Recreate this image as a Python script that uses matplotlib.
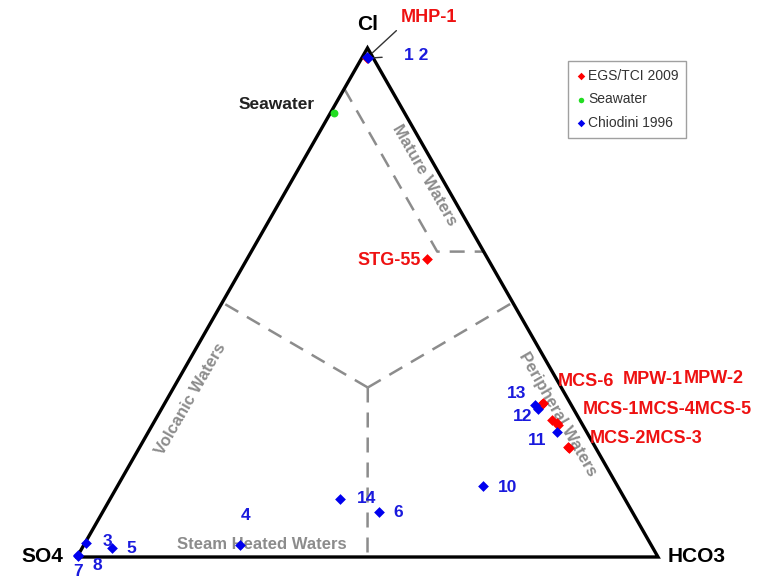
import numpy as np
import matplotlib.pyplot as plt

# Giggenbach Cl-SO4-HCO3 ternary plot of geothermal water samples

# EGS/TCI 2009 samples (percent of Cl + SO4 + HCO3)
egs_names = ['MHP-1', 'STG-55', 'MCS-6', 'MPW-1', 'MPW-2',
             'MCS-1', 'MCS-4', 'MCS-5', 'MCS-2', 'MCS-3']
egs_cl = [98.1, 58.5, 30.0, 30.3, 29.8, 27.0, 26.3, 26.0, 21.6, 21.5]
egs_so4 = [1.0, 10.5, 5.0, 4.6, 5.2, 4.8, 4.3, 4.2, 4.7, 4.6]
egs_hco3 = [0.9, 31.0, 65.0, 65.1, 65.0, 68.2, 69.4, 69.8, 73.7, 73.9]

# seawater
sw_cl = [87.2]
sw_so4 = [12.2]
sw_hco3 = [0.6]

# Chiodini 1996 samples
chi_names = ['1', '2', '3', '4', '5', '6', '7', '8', '10', '11', '12', '13', '14']
chi_cl = [98.0, 98.2, 2.8, 2.4, 1.8, 8.8, 0.2, 0.3, 13.9, 24.6, 29.1, 29.9, 11.4]
chi_so4 = [1.0, 0.9, 97.0, 70.8, 93.1, 43.6, 99.7, 99.6, 23.2, 5.1, 6.1, 6.2, 49.0]
chi_hco3 = [1.0, 0.9, 0.2, 26.8, 5.1, 47.6, 0.1, 0.1, 62.9, 70.3, 64.8, 63.9, 39.6]

# field boundaries (Cl, SO4, HCO3)
mature_line = [(92.0, 8.0, 0.0), (60.0, 8.0, 32.0), (60.0, 0.0, 40.0)]
center = (33.3, 33.3, 33.4)
edge_mids = [(50.0, 50.0, 0.0), (50.0, 0.0, 50.0), (0.0, 50.0, 50.0)]

H = np.sqrt(3) / 2


def tern(cl, so4, hco3):
    cl = np.asarray(cl, float)
    so4 = np.asarray(so4, float)
    hco3 = np.asarray(hco3, float)
    tot = cl + so4 + hco3
    return (hco3 + cl / 2) / tot, cl / tot * H


fig = plt.figure(figsize=(7.67, 5.79), dpi=100)
ax = fig.add_axes([0, 0, 1, 1])
ypx = 509 / H
ax.set_xlim(-77 / 581, 690 / 581)
ax.set_ylim(-22 / ypx, 557 / ypx)
ax.axis('off')

BOLD = dict(fontweight='bold', family='Liberation Sans')
grey = '#8c8c8c'

# triangle frame
fx, fy = tern([0, 100, 0, 0], [100, 0, 0, 100], [0, 0, 100, 0])
ax.plot(fx, fy, color='black', lw=2.4, solid_joinstyle='miter', zorder=3)

# dashed field boundaries
dash = dict(color=grey, lw=1.8, ls=(0, (6, 4)), zorder=1)
mx, my = tern(*zip(*mature_line))
ax.plot(mx, my, **dash)
for m in edge_mids:
    lx, ly = tern(*zip(center, m))
    ax.plot(lx, ly, **dash)

# region labels
reg = dict(ha='center', va='center', color=grey, fontsize=12, **BOLD)
ax.text(*tern(75, 2.7, 22.3), 'Mature Waters', rotation=-60, **reg)
ax.text(*tern(28.0, 3.2, 68.8), 'Peripheral Waters', rotation=-60, **reg)
ax.text(*tern(31, 65, 4), 'Volcanic Waters', rotation=60, **reg)
ax.text(*tern(2.4, 67, 30.6), 'Steam Heated Waters', **reg)

# vertex labels
ax.text(0.5, H + 24 / ypx, 'Cl', ha='center', va='center', fontsize=15, **BOLD)
ax.text(-35 / 581, 0, 'SO4', ha='center', va='center', fontsize=15, **BOLD)
ax.text(620 / 581, 0, 'HCO3', ha='center', va='center', fontsize=15, **BOLD)

# data points
ex, ey = tern(egs_cl, egs_so4, egs_hco3)
sx, sy = tern(sw_cl, sw_so4, sw_hco3)
cx, cy = tern(chi_cl, chi_so4, chi_hco3)
ax.scatter(ex, ey, marker='D', s=30, color='#ff0000', lw=0, zorder=4, label='EGS/TCI 2009')
ax.scatter(sx, sy, marker='o', s=32, color='#22dd22', lw=0, zorder=4, label='Seawater')
ax.scatter(cx, cy, marker='D', s=30, color='#0000ee', lw=0, zorder=5, label='Chiodini 1996')

red = dict(color='#ee1111', fontsize=13, textcoords='offset pixels', va='center', **BOLD)
blue = dict(color='#1a1add', fontsize=12.5, textcoords='offset pixels',
            ha='center', va='center', **BOLD)

ax.annotate('Seawater', (sx[0], sy[0]), xytext=(-57, 9), textcoords='offset pixels',
            ha='center', va='center', color='#222222', fontsize=12.5, **BOLD)

# EGS labels
pts = dict(zip(egs_names, zip(ex, ey)))
ax.annotate('MHP-1', pts['MHP-1'], xytext=(34, 40), ha='left',
            arrowprops=dict(arrowstyle='-', color='#333333', lw=1, relpos=(0, 0),
                            shrinkA=2, shrinkB=5), **red)
ax.annotate('STG-55', pts['STG-55'], xytext=(-6, -1), ha='right', **red)
ax.annotate('MCS-6', pts['MCS-6'], xytext=(16, 23), ha='left', **red)
ax.annotate('MPW-1', pts['MPW-1'], xytext=(79, 23), ha='left', **red)
ax.annotate('MPW-2', pts['MPW-2'], xytext=(143, 27), ha='left', **red)
ax.annotate('MCS-1MCS-4MCS-5', pts['MCS-1'], xytext=(31, 10), ha='left', **red)
ax.annotate('MCS-2MCS-3', pts['MCS-2'], xytext=(22, 9), ha='left', **red)

# Chiodini labels
cpts = dict(zip(chi_names, zip(cx, cy)))
ax.annotate('1 2', cpts['1'], xytext=(49, 3),
            arrowprops=dict(arrowstyle='-', color='#333333', lw=1,
                            shrinkA=14, shrinkB=14), **blue)
offsets = {'3': (21, 1), '4': (6, 29), '5': (19, -1), '6': (19, 0),
           '7': (0, -16), '8': (19, -10), '10': (25, -1), '11': (-20, -9),
           '12': (-15, -8), '13': (-19, 11), '14': (26, 0)}
for n, off in offsets.items():
    ax.annotate(n, cpts[n], xytext=off, **blue)

leg = ax.legend(loc='upper left', bbox_to_anchor=(568 / 767, 1 - 61 / 579),
                borderaxespad=0, frameon=True, fancybox=False, handletextpad=0.1,
                handlelength=0.8, borderpad=0.55, labelspacing=0.7,
                markerscale=0.7, prop=dict(family='Liberation Sans', size=10))
leg.get_frame().set_edgecolor('#888888')
leg.get_frame().set_linewidth(1)
for t in leg.get_texts():
    t.set_color('#333333')

fig.savefig('out.png', dpi=100)
